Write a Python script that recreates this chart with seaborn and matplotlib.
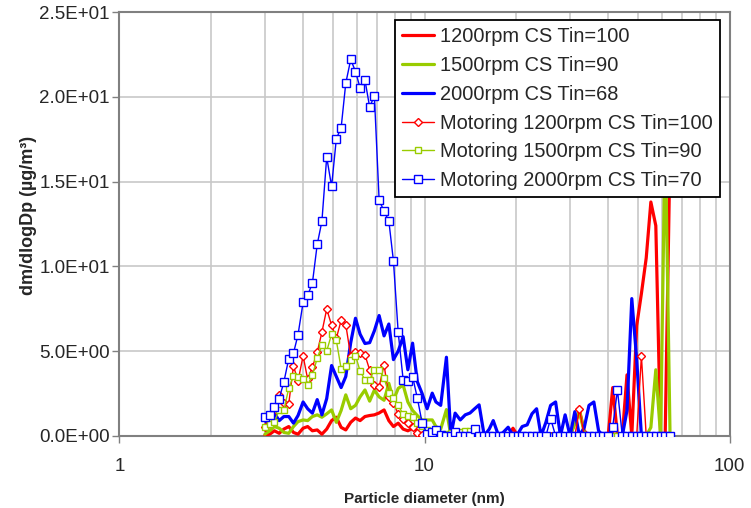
import matplotlib
matplotlib.use("Agg")
import matplotlib.pyplot as plt
import seaborn as sns
import pandas as pd
from matplotlib.ticker import FuncFormatter, LogLocator, NullFormatter

# SMPS channel mid-point diameters (nm)
diameter = [3.00, 3.11, 3.22, 3.34, 3.46, 3.59, 3.72, 3.85, 4.00, 4.14,
            4.29, 4.45, 4.61, 4.78, 4.96, 5.14, 5.33, 5.52, 5.73, 5.94,
            6.15, 6.38, 6.61, 6.85, 7.10, 7.37, 7.64, 7.91, 8.20, 8.51,
            8.82, 9.14, 9.47, 9.82, 10.2, 10.6, 10.9, 11.3, 11.8, 12.2,
            12.6, 13.1, 13.6, 14.1, 14.6, 15.1, 15.7, 16.3, 16.8, 17.5,
            18.1, 18.8, 19.5, 20.2, 20.9, 21.7, 22.5, 23.3, 24.1, 25.0,
            25.9, 26.9, 27.9, 28.9, 30.0, 31.1, 32.2, 33.4, 34.6, 35.9,
            37.2, 38.5, 40.0, 41.4, 42.9, 44.5, 46.1, 47.8, 49.6, 51.4,
            53.3, 55.2, 57.3, 59.4, 61.5, 63.8]

cs1200 = [0.05, 0.1, 0.3, 0.15, 0.4, 0.55, 0.2, 0.1, 0.45, 0.55,
          0.3, 0.35, 0.1, 0.4, 0.9, 1.1, 0.5, 0.35, 0.8, 1.05,
          0.9, 1.14, 1.2, 1.24, 1.35, 1.53, 0.9, 0.55, 0.75, 0.4,
          0.3, 0.45, 0.3, 0.05, 0.2, 0.35, 0.1, 0.0, 0.0, 0.0,
          0.0, 0.0, 0.0, 0.0, 0.0, 0.0, 0.0, 0.0, 0.0, 0.0,
          0.0, 0.0, 0.45, 0.0, 0.0, 0.0, 0.0, 0.0, 0.0, 0.0,
          0.0, 0.0, 0.0, 0.0, 0.0, 0.8, 1.5, 0.3, 0.0, 0.0,
          0.0, 0.0, 0.0, 2.85, 0.0, 0.0, 3.6, 0.0, 6.5, 8.4,
          10.5, 13.8, 12.4, 0.0, 0.0, 17.0]

cs1500 = [0.1, 0.3, 0.55, 0.45, 0.2, 0.15, 0.55, 0.84, 0.94, 0.9,
          1.14, 1.24, 1.1, 1.3, 1.53, 0.8, 1.5, 2.42, 1.6, 1.8,
          2.3, 2.71, 2.05, 2.7, 2.3, 2.1, 3.1, 2.1, 2.8, 3.0,
          2.0, 1.5, 1.2, 0.94, 0.94, 0.94, 0.55, 0.4, 1.55, 0.0,
          0.1, 0.2, 0.2, 0.2, 0.2, 0.0, 0.0, 0.0, 0.0, 0.0,
          0.0, 0.0, 0.0, 0.0, 0.0, 0.0, 0.0, 0.0, 0.0, 0.0,
          0.0, 0.0, 0.0, 0.0, 0.0, 0.7, 1.45, 0.2, 0.0, 0.0,
          0.0, 0.0, 0.0, 0.0, 0.0, 0.0, 0.0, 0.0, 0.0, 0.0,
          0.0, 0.5, 3.9, 0.0, 18.0, 0.0]

cs2000 = [0.9, 0.6, 1.34, 0.9, 1.14, 1.14, 0.75, 1.2, 2.0, 1.6,
          1.34, 2.14, 1.24, 2.2, 4.15, 3.5, 2.85, 3.5, 5.5, 6.94,
          6.0, 5.45, 5.5, 6.2, 7.1, 5.9, 6.6, 4.5, 5.0, 5.85,
          3.9, 5.47, 3.2, 2.5, 1.6, 2.52, 2.0, 1.8, 4.64, 0.0,
          1.34, 0.94, 1.24, 1.35, 1.6, 1.83, 0.0, 0.4, 0.9, 0.0,
          0.2, 0.51, 0.0, 0.1, 0.55, 0.65, 1.3, 1.6, 0.0, 0.8,
          1.8, 2.0, 0.0, 1.24, 0.0, 1.43, 0.0, 0.5, 1.8, 2.0,
          0.3, 0.0, 0.0, 0.0, 0.0, 0.0, 1.5, 8.1, 4.5, 0.0,
          0.0, 0.0, 0.0, 0.0, 0.0, 0.0]

mot1200 = [0.5, 0.85, 1.5, 2.44, 1.95, 1.9, 4.12, 3.24, 4.72, 3.35,
           4.05, 4.93, 6.12, 7.48, 6.53, 5.75, 6.82, 6.57, 4.7, 4.92,
           4.89, 4.78, 3.89, 3.0, 2.9, 4.19, 2.32, 1.96, 1.28, 1.0,
           0.75, 0.55, 0.16, 0.05, 0.0, 0.0, 0.0, 0.0, 0.0, 0.0,
           0.0, 0.0, 0.0, 0.0, 0.0, 0.0, 0.0, 0.0, 0.0, 0.0,
           0.0, 0.0, 0.0, 0.0, 0.0, 0.0, 0.0, 0.0, 0.0, 0.0,
           0.0, 0.0, 0.0, 0.0, 0.0, 0.0, 1.59, 0.0, 0.0, 0.0,
           0.0, 0.0, 0.0, 0.0, 0.0, 0.0, 0.0, 0.0, 0.0, 4.72,
           0.0, 0.0, 0.0, 0.0, 0.0, 0.0]

mot1500 = [0.55, 0.7, 0.84, 1.53, 1.53, 2.81, 3.54, 3.46, 3.34, 3.0,
           3.58, 4.58, 5.34, 5.0, 6.01, 5.64, 3.97, 4.13, 4.48, 4.74,
           3.83, 3.3, 3.3, 3.91, 3.91, 3.4, 2.52, 2.22, 1.8, 1.27,
           1.2, 1.1, 0.75, 0.58, 0.35, 0.2, 0.1, 0.05, 0.1, 0.15,
           0.2, 0.25, 0.3, 0.3, 0.35, 0.0, 0.0, 0.0, 0.0, 0.0,
           0.0, 0.0, 0.0, 0.0, 0.0, 0.0, 0.0, 0.0, 0.0, 0.0,
           0.0, 0.0, 0.0, 0.0, 0.0, 0.0, 0.0, 0.0, 0.0, 0.0,
           0.0, 0.0, 0.0, 0.0, 0.0, 0.0, 0.0, 0.0, 0.0, 0.0,
           0.0, 0.0, 0.0, 0.0, 0.0, 0.0]

mot2000 = [1.1, 1.22, 1.71, 2.20, 3.18, 4.56, 4.88, 5.97, 7.88, 8.30,
           9.0, 11.30, 12.66, 16.45, 14.72, 17.53, 18.18, 20.81, 22.21, 21.50,
           20.54, 21.0, 19.4, 20.07, 13.92, 13.25, 12.68, 10.32, 6.1, 3.32,
           3.25, 3.5, 2.24, 0.78, 0.12, 0.22, 0.32, 0.08, 0.0, 0.0,
           0.25, 0.0, 0.0, 0.0, 0.38, 0.0, 0.0, 0.0, 0.0, 0.0,
           0.0, 0.0, 0.0, 0.0, 0.0, 0.0, 0.0, 0.0, 0.0, 0.0,
           1.02, 0.0, 0.0, 0.0, 0.0, 0.0, 0.0, 0.0, 0.0, 0.0,
           0.0, 0.0, 0.0, 0.55, 2.71, 0.0, 0.0, 0.0, 0.0, 0.0,
           0.0, 0.0, 0.0, 0.0, 0.0, 0.0]

labels = ["1200rpm CS Tin=100", "1500rpm CS Tin=90", "2000rpm CS Tin=68",
          "Motoring 1200rpm CS Tin=100", "Motoring 1500rpm CS Tin=90",
          "Motoring 2000rpm CS Tin=70"]

RED, GREEN, BLUE = "#FF0000", "#99CC00", "#0000FF"

sns.set_style("white")
plt.rcParams["font.family"] = ["Liberation Sans", "DejaVu Sans"]

fig = plt.figure(figsize=(7.51, 5.08), dpi=100)
ax = fig.add_axes([0.159, 0.142, 0.8125, 0.834])

# thick (fired) lines
for vals, col, lab in [(cs1200, RED, labels[0]), (cs1500, GREEN, labels[1]),
                       (cs2000, BLUE, labels[2])]:
    sns.lineplot(x=diameter, y=vals, ax=ax, color=col, lw=2.3, label=lab,
                 estimator=None, sort=False, zorder=3)

# thin motoring lines with markers
for vals, col, mk, ms, lab in [(mot1200, RED, "D", 3.6, labels[3]),
                               (mot1500, GREEN, "s", 4.6, labels[4]),
                               (mot2000, BLUE, "s", 5.4, labels[5])]:
    sns.lineplot(x=diameter, y=vals, ax=ax, color=col, lw=1.0, marker=mk,
                 markersize=ms, markerfacecolor="white", markeredgecolor=col,
                 markeredgewidth=1.0, label=lab, estimator=None, sort=False,
                 zorder=4)

ax.set_xscale("log")
ax.set_xlim(1, 100)
ax.set_ylim(0, 25)
ax.set_yticks([0, 5, 10, 15, 20, 25])
ax.yaxis.set_major_formatter(FuncFormatter(lambda v, p: f"{v:.1E}"))
ax.xaxis.set_major_locator(LogLocator(base=10, numticks=5))
ax.xaxis.set_minor_locator(LogLocator(base=10, subs=range(2, 10), numticks=20))
ax.xaxis.set_minor_formatter(NullFormatter())
ax.xaxis.set_major_formatter(FuncFormatter(lambda v, p: f"{v:g}"))

ax.grid(True, which="both", axis="x", color="#c8c8c8", lw=1.2)
ax.grid(True, which="major", axis="y", color="#c8c8c8", lw=1.2)
ax.set_axisbelow(True)

for s in ax.spines.values():
    s.set_color("#808080")
    s.set_linewidth(1.5)
    s.set_visible(True)

ax.tick_params(axis="both", which="major", direction="out", length=5,
               width=1, color="#808080", labelsize=13.5, pad=2)
ax.tick_params(axis="x", which="major", pad=11)
ax.tick_params(axis="x", which="minor", length=0)
ax.tick_params(left=True, bottom=True)

ax.set_xlabel("Particle diameter (nm)", fontsize=11, fontweight="bold",
              labelpad=12)
ax.set_ylabel("dm/dlogDp (µg/m³)", fontsize=13, fontweight="bold",
              labelpad=3)
ax.yaxis.set_label_coords(-0.135, 0.52)

leg = ax.legend(loc="upper right", bbox_to_anchor=(0.9836, 0.981),
                borderaxespad=0, fontsize=14.4, frameon=True, fancybox=False,
                framealpha=1, edgecolor="black", handlelength=1.6,
                handletextpad=0.3, labelspacing=0.49, borderpad=0.35)
leg.get_frame().set_linewidth(1.3)
leg.set_zorder(10)

fig.savefig("out.png", dpi=100)
